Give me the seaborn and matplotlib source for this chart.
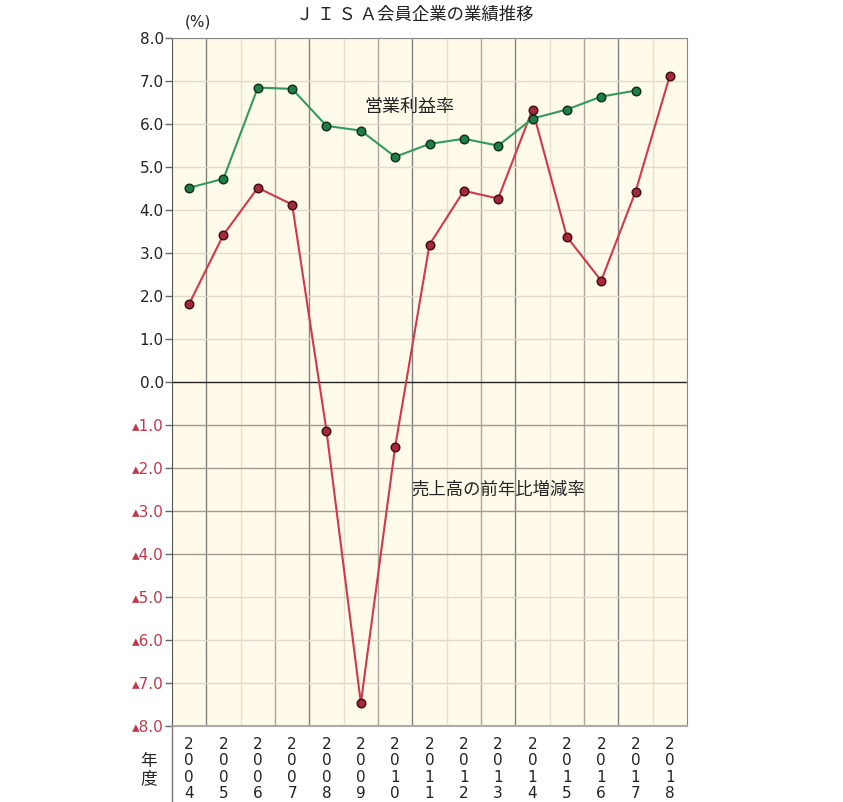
import matplotlib
matplotlib.use("Agg")
import matplotlib.pyplot as plt
import seaborn as sns
import pandas as pd
import numpy as np

# Data
years = list(range(2004, 2019))
op_margin = [4.51, 4.72, 6.84, 6.81, 5.95, 5.84, 5.23, 5.53, 5.65, 5.49,
             6.12, 6.33, 6.63, 6.77, np.nan]
sales_growth = [1.81, 3.42, 4.51, 4.12, -1.14, -7.47, -1.51, 3.19, 4.44, 4.26,
                6.33, 3.37, 2.35, 4.42, 7.12]
y_ticks = np.arange(-8, 9, 1)

sns.set_style("white")
plt.rcParams['font.family'] = ['DejaVu Sans', 'Noto Sans CJK JP']

df = pd.DataFrame({'idx': range(len(years)), 'year': years,
                   'op': op_margin, 'sales': sales_growth})

fig = plt.figure(figsize=(8.43, 8.02), dpi=100)
ax = fig.add_axes([0.204, 0.095, 0.611, 0.858])
ax.set_facecolor('#FFFAE9')

# grid lines
for i in range(len(years) - 1):
    x = i + 0.5
    shade = ['#808080', '#e6e0cf', '#aaa69c'][i % 3]
    ax.axvline(x, color=shade, lw=1.0, zorder=1)
for v in y_ticks:
    if v == 0:
        ax.axhline(v, color='#222222', lw=1.0, zorder=2)
    elif -4 <= v < 0:
        ax.axhline(v, color='#a09c92', lw=1.0, zorder=1)
    else:
        ax.axhline(v, color='#dfdacb', lw=1.0, zorder=1)

sns.lineplot(data=df, x='idx', y='sales', ax=ax, color='#D0394B', lw=1.5,
             marker='o', markersize=6.2, markerfacecolor='#A3293B',
             markeredgecolor='#3a0d12', markeredgewidth=1.0, zorder=4)
sns.lineplot(data=df.dropna(), x='idx', y='op', ax=ax, color='#2F9C5C', lw=1.5,
             marker='o', markersize=6.2, markerfacecolor='#1F7D47',
             markeredgecolor='#0c2e1a', markeredgewidth=1.0, zorder=5)

ax.set_xlim(-0.5, len(years) - 0.5)
ax.set_ylim(-8, 8)
ax.set_xlabel('')
ax.set_ylabel('')

ax.set_yticks(y_ticks)
labels = []
for v in y_ticks:
    labels.append(f'▴{abs(v):.1f}' if v < 0 else f'{v:.1f}')
ax.set_yticklabels(labels, fontsize=11)
for lab, v in zip(ax.get_yticklabels(), y_ticks):
    lab.set_color('#C0394A' if v < 0 else '#222222')
ax.tick_params(axis='y', length=5, width=1, color='#666666', pad=1, left=True)

ax.set_xticks(range(len(years)))
ax.set_xticklabels(['\n'.join(str(y)) for y in years], fontsize=11,
                   linespacing=1.12, color='#222222')
ax.tick_params(axis='x', length=0, pad=8)

for side in ['top', 'right']:
    ax.spines[side].set_color('#888888')
ax.spines['left'].set_color('#555555')
ax.spines['bottom'].set_color('#aaaaaa')
ax.spines['bottom'].set_linewidth(1.5)

# left spine continues down beside the year labels
fig.add_artist(plt.Line2D([0.204, 0.204], [0.0, 0.095], color='#777777',
                          lw=1.0, transform=fig.transFigure))

fig.text(0.176, 0.040, '年\n度', fontsize=12, family='Noto Sans CJK JP',
         ha='center', va='center', linespacing=1.05, color='#222222')
fig.text(0.492, 0.982, 'Ｊ Ｉ Ｓ Ａ会員企業の業績推移', fontsize=12.5,
         family='Noto Sans CJK JP', ha='center', va='center', color='#222222')
fig.text(0.235, 0.972, '(%)', fontsize=11, ha='center', va='center', color='#222222')

ax.text(6.4, 6.38, '営業利益率', fontsize=13, family='Noto Sans CJK JP',
        ha='center', va='center', color='#222222', zorder=6)
ax.text(9.0, -2.5, '売上高の前年比増減率', fontsize=12.5, family='Noto Sans CJK JP',
        ha='center', va='center', color='#222222', zorder=6)

fig.savefig('out.png', dpi=100, facecolor='white')
